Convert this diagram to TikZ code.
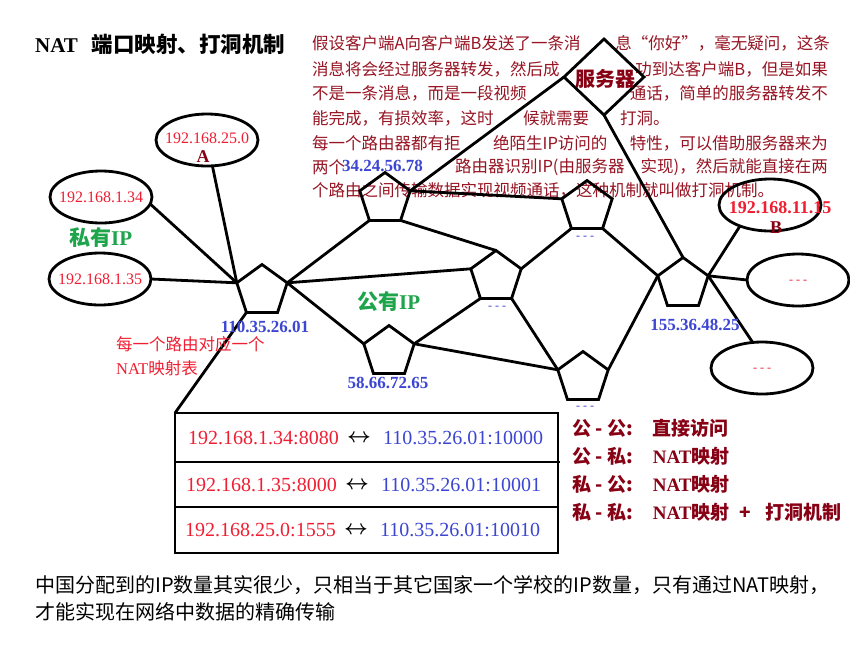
\documentclass[tikz,border=0pt]{standalone}
\usepackage{fontspec}
\setmainfont{Liberation Serif}
\newfontfamily\cjk{Noto Sans CJK SC}
\usetikzlibrary{shapes.geometric}
\definecolor{para}{RGB}{150,20,35}
\definecolor{dred}{RGB}{135,0,20}
\definecolor{ipred}{RGB}{240,30,50}
\definecolor{ipblue}{RGB}{60,70,210}
\definecolor{ipgreen}{RGB}{30,165,75}
\begin{document}
\begin{tikzpicture}[x=1pt,y=-1pt,
  wire/.style={line width=2.8pt},
  router/.style={draw,line width=2.8pt,regular polygon,regular polygon sides=5,minimum size=53pt,inner sep=0pt,outer sep=0pt},
  host/.style={draw,line width=2.8pt,ellipse,minimum width=102pt,minimum height=52pt,inner sep=0pt,outer sep=0pt},
  ptext/.style={font=\cjk\fontsize{16.5}{18}\selectfont,text=para,inner sep=0pt},
  hostip/.style={font=\fontsize{16}{18}\selectfont,text=ipred,inner sep=0pt},
  routerip/.style={font=\bfseries\fontsize{17}{19}\selectfont,text=ipblue,inner sep=0pt},
  dots/.style={font=\fontsize{12}{14}\selectfont,inner sep=0pt},
  letter/.style={font=\bfseries\fontsize{18}{20}\selectfont,text=dred,inner sep=0pt},
  rowred/.style={font=\fontsize{20}{22}\selectfont,text=ipred,inner sep=0pt,anchor=west},
  rowblue/.style={font=\fontsize{20}{22}\selectfont,text=ipblue,inner sep=0pt,anchor=west},
  rowarrow/.style={font=\fontsize{20}{22}\selectfont\boldmath,inner sep=0pt},
  legend/.style={font=\cjk\bfseries\fontsize{19}{21}\selectfont,text=dred,inner sep=0pt,anchor=west},
  zone/.style={font=\bfseries\fontsize{21}{23}\selectfont,text=ipgreen,inner sep=0pt,anchor=west},
  note/.style={font=\cjk\fontsize{16.5}{18}\selectfont,text=ipred,inner sep=0pt,anchor=west},
  bottomtext/.style={font=\cjk\fontsize{20}{22}\selectfont,inner sep=0pt,anchor=west}
]
\fill[white] (0,0) rectangle (850,646);
\useasboundingbox (0,0) rectangle (850,646);

% title
\node[inner sep=0pt,anchor=west,font=\bfseries\fontsize{21}{24}\selectfont] (title) at (35,44) {NAT\hspace{14pt}{\cjk\fontsize{21.5}{24}\selectfont 端口映射、打洞机制}};

% paragraph
\node[ptext,anchor=west] (t1a) at (312,43) {假设客户端A向客户端B发送了一条消};
\node[ptext,anchor=east] (t1b) at (830,43) {息“你好”，毫无疑问，这条};
\node[ptext,anchor=west] (t2a) at (312,69) {消息将会经过服务器转发，然后成};
\node[ptext,anchor=east] (t2b) at (828,69) {功到达客户端B，但是如果};
\node[ptext,anchor=west] (t3a) at (312,93) {不是一条消息，而是一段视频};
\node[ptext,anchor=east] (t3b) at (828,93) {通话，简单的服务器转发不};
\node[ptext,anchor=west] (t4a) at (312,118) {能完成，有损效率，这时};
\node[ptext,anchor=west] (t4b) at (523,118) {候就需要};
\node[ptext,anchor=west] (t4c) at (620,118) {打洞。};
\node[ptext,anchor=west] (t5a) at (312,143) {每一个路由器都有拒};
\node[ptext,anchor=west] (t5b) at (493,143) {绝陌生IP访问的};
\node[ptext,anchor=east] (t5c) at (828,143) {特性，可以借助服务器来为};
\node[ptext,anchor=west] (t6a) at (312,167) {两个};
\node[routerip,anchor=west] (t6ip) at (342,166) {34.24.56.78};
\node[ptext,anchor=west] (t6b) at (455,167) {路由器识别IP(由服务器};
\node[ptext,anchor=east] (t6c) at (828,167) {实现)，然后就能直接在两};
\node[ptext,anchor=west] (t7) at (312,190) {个路由之间传输数据实现视频通话，这种机制就叫做打洞机制。};

% routers
\node[router] (p1) at (262,291) {};
\node[router] (p2) at (385,199) {};
\node[router] (p3) at (587,207) {};
\node[router] (p4) at (496,277) {};
\node[router] (p5) at (389,352) {};
\node[router] (p6) at (583,378) {};
\node[router] (p7) at (683,284) {};

% hosts
\node[host] (eA) at (207,140) {};
\node[host] (e34) at (101,197) {};
\node[host] (e35) at (100,279) {};
\node[host] (eB) at (770,205) {};
\node[host] (e1) at (798,280) {};
\node[host] (e2) at (762,368) {};

% server
\node[draw,diamond,line width=2.8pt,minimum width=80pt,minimum height=76pt,inner sep=0pt,outer sep=0pt] (srv) at (604,77) {};
\node[inner sep=0pt,font=\cjk\bfseries\fontsize{20}{22}\selectfont,text=dred] (srvt) at (605,79) {服务器};

% table
\node[draw,line width=2.8pt,minimum width=383pt,minimum height=140pt,inner sep=0pt,outer sep=0pt,anchor=north west] (tbl) at (175,413) {};
\coordinate (d1l) at (175,462);
\coordinate (d1r) at (560,462);
\coordinate (d2l) at (175,507);
\coordinate (d2r) at (558,507);
\draw[wire] (d1l) -- (d1r);
\draw[wire] (d2l) -- (d2r);

% connectors
\draw[wire] (eA) -- (p1.corner 2);
\draw[wire] (e34.-8) -- (p1.corner 2);
\draw[wire] (e35.east) -- (p1.corner 2);
\draw[wire] (p1.corner 3) -- (tbl.north west);
\draw[wire] (p1.corner 5) -- (p2.corner 3);
\draw[wire] (p1.corner 5) -- (p4.corner 2);
\draw[wire] (p1.corner 5) -- (p5.corner 2);
\draw[wire] (p2.corner 4) -- (p4.corner 1);
\draw[wire] (p2.corner 5) -- (p3.corner 2);
\draw[wire] (p2.corner 5) -- (srv.west);
\draw[wire] (srv.south) -- (p7.corner 1);
\draw[wire] (p3.corner 3) -- (p4.corner 5);
\draw[wire] (p3.corner 4) -- (p7.corner 2);
\draw[wire] (p4.corner 3) -- (p5.corner 5);
\draw[wire] (p4.corner 4) -- (p6.corner 2);
\draw[wire] (p5.corner 5) -- (p6.corner 2);
\draw[wire] (p7.corner 2) -- (p6.corner 5);
\draw[wire] (p7.corner 5) -- (eB.215);
\draw[wire] (p7.corner 5) -- (e1.west);
\draw[wire] (p7.corner 5) -- (e2.110);

% host labels
\node[hostip] (lA) at (207,138) {192.168.25.0};
\node[letter] (lAl) at (203,157) {A};
\node[hostip] (l34) at (101,197) {192.168.1.34};
\node[hostip] (l35) at (100,279) {192.168.1.35};
\node[hostip,font=\bfseries\fontsize{18}{20}\selectfont] (lB) at (780,208) {192.168.11.15};
\node[letter] (lBl) at (776,228) {B};
\node[dots,text=ipred] (l1) at (798,282) {- - -};
\node[dots,text=ipred] (l2) at (762,370) {- - -};

% router labels
\node[routerip] (r1l) at (265,327) {110.35.26.01};
\node[routerip] (r5l) at (388,383) {58.66.72.65};
\node[routerip] (r7l) at (695,325) {155.36.48.25};
\node[dots,text=ipblue] (r3l) at (585,238) {- - -};
\node[dots,text=ipblue] (r4l) at (497,308) {- - -};
\node[dots,text=ipblue] (r6l) at (585,408) {- - -};

% zones
\node[zone] (zpriv) at (69,238) {{\cjk 私有}IP};
\node[zone] (zpub) at (357,302) {{\cjk 公有}IP};

% note
\node[note] (n1) at (116,344) {每一个路由对应一个};
\node[note] (n2) at (116,368) {{\rmfamily NAT}映射表};

% table rows
\node[rowred] (r1a) at (188,438) {192.168.1.34:8080};
\node[rowarrow] (r1b) at (359,438) {$\leftrightarrow$};
\node[rowblue] (r1c) at (383,438) {110.35.26.01:10000};
\node[rowred] (r2a) at (186,485) {192.168.1.35:8000};
\node[rowarrow] (r2b) at (357,485) {$\leftrightarrow$};
\node[rowblue] (r2c) at (381,485) {110.35.26.01:10001};
\node[rowred] (r3a) at (185,530) {192.168.25.0:1555};
\node[rowarrow] (r3b) at (356,530) {$\leftrightarrow$};
\node[rowblue] (r3c) at (380,530) {110.35.26.01:10010};

% legend
\node[legend] (g1) at (572,428) {公 - 公:\hspace{20pt}直接访问};
\node[legend] (g2) at (572,456) {公 - 私:\hspace{20pt}{\rmfamily NAT}映射};
\node[legend] (g3) at (572,484) {私 - 公:\hspace{20pt}{\rmfamily NAT}映射};
\node[legend] (g4) at (572,512) {私 - 私:\hspace{20pt}{\rmfamily NAT}映射\hspace{10pt}+\hspace{14pt}打洞机制};

% bottom text
\node[bottomtext] (b1) at (35,585) {中国分配到的IP数量其实很少，只相当于其它国家一个学校的IP数量，只有通过NAT映射，};
\node[bottomtext] (b2) at (35,612) {才能实现在网络中数据的精确传输};
\end{tikzpicture}
\end{document}
